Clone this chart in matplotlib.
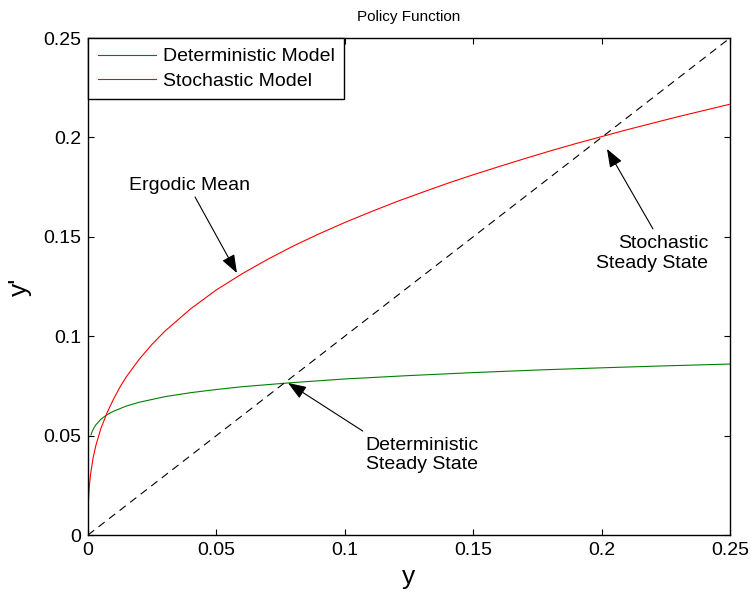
import matplotlib
matplotlib.use("Agg")
import matplotlib.pyplot as plt
from matplotlib.ticker import FormatStrFormatter

plt.rcParams['font.family'] = ['Liberation Sans', 'DejaVu Sans']

# policy functions y' = g(y)
y_det = [0.0012, 0.0015, 0.002, 0.003, 0.005, 0.0075, 0.01, 0.015, 0.02, 0.03,
         0.04, 0.05, 0.06, 0.08, 0.1, 0.125, 0.15, 0.175, 0.2, 0.225, 0.25]
yp_det = [0.0504, 0.0516, 0.0531, 0.0553, 0.0582, 0.0606, 0.0623, 0.0649, 0.0668, 0.0696,
          0.0716, 0.0732, 0.0746, 0.0767, 0.0785, 0.0802, 0.0817, 0.0830, 0.0841, 0.0851,
          0.0860]

y_sto = [0.0, 0.00005, 0.0002, 0.0005, 0.001, 0.002, 0.003, 0.005, 0.0075, 0.01,
         0.0125, 0.015, 0.02, 0.025, 0.03, 0.04, 0.05, 0.06, 0.07, 0.08,
         0.09, 0.1, 0.11, 0.12, 0.13, 0.14, 0.15, 0.16, 0.17, 0.18,
         0.19, 0.2, 0.21, 0.22, 0.23, 0.24, 0.25]
yp_sto = [0.0, 0.0108, 0.0175, 0.0241, 0.0305, 0.0388, 0.0447, 0.0535, 0.0617, 0.0685,
          0.0745, 0.0797, 0.0885, 0.0960, 0.1026, 0.1138, 0.1233, 0.1314, 0.1387, 0.1454,
          0.1515, 0.1572, 0.1625, 0.1676, 0.1723, 0.1769, 0.1812, 0.1853, 0.1893, 0.1932,
          0.1969, 0.2004, 0.2039, 0.2072, 0.2105, 0.2136, 0.2167]

diag = [0.0, 0.25]
ticks = [0, 0.05, 0.1, 0.15, 0.2, 0.25]

fig = plt.figure(figsize=(7.5, 5.94), dpi=100)
ax = fig.add_axes([0.1173, 0.0993, 0.856, 0.8367])

ax.plot(y_det, yp_det, color='#008000', lw=0.8, label='Deterministic Model')
ax.plot(y_sto, yp_sto, color='#ff0000', lw=0.8, label='Stochastic Model')
ax.plot(diag, diag, color='black', lw=0.8, dashes=(7, 5))

ax.set_xlim(0, 0.25)
ax.set_ylim(0, 0.25)
ax.set_xticks(ticks)
ax.set_yticks(ticks)
ax.xaxis.set_major_formatter(FormatStrFormatter('%g'))
ax.yaxis.set_major_formatter(FormatStrFormatter('%g'))
ax.tick_params(direction='in', length=4.5, width=0.8, top=True, right=True,
               labelsize=14, pad=5)
for s in ax.spines.values():
    s.set_linewidth(1.0)

ax.set_title('Policy Function', fontsize=11, pad=12)
ax.set_xlabel('y', fontsize=19, labelpad=4)
ax.set_ylabel("y'", fontsize=19, labelpad=8)

leg = ax.legend(loc='upper left', fontsize=14, frameon=True, fancybox=False,
                edgecolor='black', borderaxespad=0, handlelength=3.0,
                handletextpad=0.35, labelspacing=0.35, borderpad=0.5)
leg.get_frame().set_linewidth(1.0)
leg.get_frame().set_alpha(None)

arrow = dict(arrowstyle='-|>,head_length=0.8,head_width=0.3', color='black',
             lw=0.8, mutation_scale=14, shrinkA=0, shrinkB=0)

# ergodic mean
ax.annotate('', xy=(0.058, 0.1318), xytext=(0.0417, 0.170), arrowprops=arrow)
ax.text(0.0397, 0.176, 'Ergodic Mean', fontsize=14, ha='center', va='center')

# stochastic steady state
ax.annotate('', xy=(0.2021, 0.1942), xytext=(0.220, 0.154), arrowprops=arrow)
ax.text(0.2414, 0.1416, 'Stochastic\nSteady State', fontsize=14,
        ha='right', va='center', multialignment='right')

# deterministic steady state
ax.annotate('', xy=(0.0779, 0.0765), xytext=(0.107, 0.0523), arrowprops=arrow)
ax.text(0.1519, 0.0402, 'Deterministic\nSteady State', fontsize=14,
        ha='right', va='center', multialignment='right')

fig.savefig('out.png', dpi=100)
